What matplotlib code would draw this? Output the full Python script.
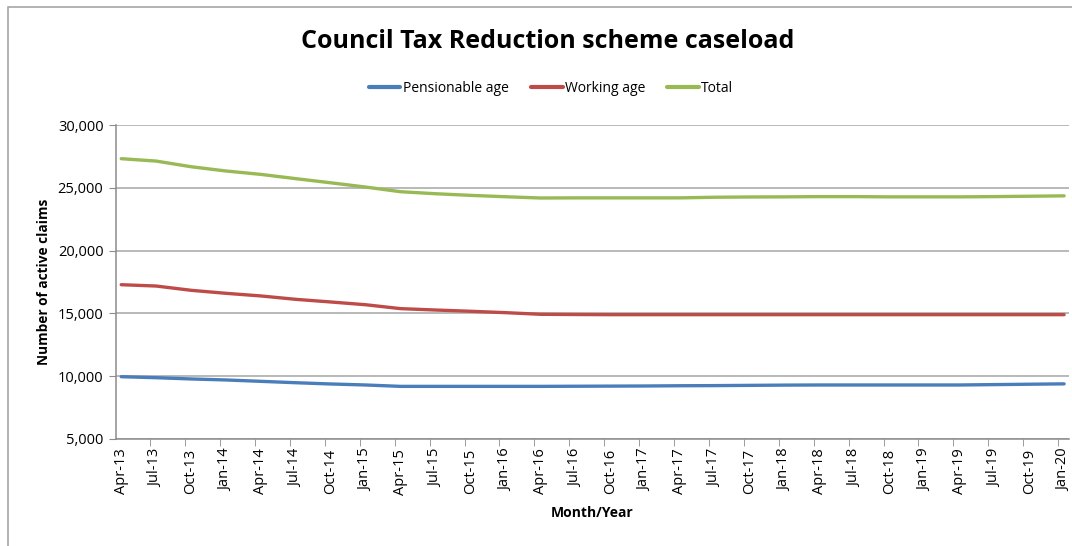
import numpy as np
import matplotlib
matplotlib.use("Agg")
import matplotlib.pyplot as plt
import matplotlib.patches as mpatches
from matplotlib.ticker import FuncFormatter, FixedLocator

months = ['Apr-13', 'Jul-13', 'Oct-13', 'Jan-14', 'Apr-14', 'Jul-14', 'Oct-14',
          'Jan-15', 'Apr-15', 'Jul-15', 'Oct-15', 'Jan-16', 'Apr-16', 'Jul-16',
          'Oct-16', 'Jan-17', 'Apr-17', 'Jul-17', 'Oct-17', 'Jan-18', 'Apr-18',
          'Jul-18', 'Oct-18', 'Jan-19', 'Apr-19', 'Jul-19', 'Oct-19', 'Jan-20']

pensionable = [9960, 9880, 9780, 9700, 9590, 9480, 9380, 9300, 9190, 9190,
               9190, 9190, 9190, 9200, 9210, 9220, 9240, 9250, 9270, 9290,
               9300, 9300, 9300, 9300, 9300, 9330, 9360, 9390]
working = [17285, 17180, 16840, 16600, 16390, 16120, 15910, 15690, 15380,
           15270, 15170, 15060, 14930, 14910, 14900, 14900, 14900, 14900,
           14900, 14900, 14900, 14900, 14900, 14900, 14900, 14900, 14900, 14900]
total = [27320, 27130, 26680, 26340, 26070, 25730, 25400, 25060, 24690,
         24530, 24400, 24290, 24190, 24200, 24200, 24200, 24200, 24250,
         24270, 24280, 24300, 24300, 24280, 24280, 24280, 24300, 24330, 24360]

labels = ['Pensionable age', 'Working age', 'Total']
colorz = ['#4a7ebb', '#be4b48', '#98b954']

plt.rcParams['font.family'] = ['Open Sans', 'DejaVu Sans']

fig = plt.figure(figsize=(10.72, 5.46), dpi=100)
ax = fig.add_axes([0.1082, 0.196, 0.889, 0.575])

# outer chart border
fig.patches.append(mpatches.Rectangle((8 / 1072, -0.1), 1.2, 1.1 - 7 / 546,
                                      transform=fig.transFigure, fill=False,
                                      edgecolor='#a6a6a6', linewidth=1.2))

x = np.arange(len(months))
for series, col, lab in zip([pensionable, working, total], colorz, labels):
    ax.plot(x, series, color=col, linewidth=2.4, label=lab,
            solid_capstyle='round')

ax.set_ylim(5000, 30000)
ax.set_xlim(-0.15, 27.14)
ax.set_yticks(np.arange(5000, 30001, 5000))
ax.yaxis.set_major_formatter(FuncFormatter(lambda v, p: f'{int(v):,}'))
ax.grid(axis='y', color='#a6a6a6', linewidth=1.1)
ax.set_axisbelow(True)

ax.set_xticks(x)
ax.set_xticklabels(months, rotation=90, fontsize=10.5)
ax.tick_params(axis='x', which='major', length=0, pad=7)
ax.xaxis.set_minor_locator(FixedLocator(x - 0.17))
ax.tick_params(axis='x', which='minor', length=5, color='#8c8c8c')
ax.tick_params(axis='y', length=5, color='#8c8c8c', labelsize=10.5, pad=4)

for s in ['top', 'right']:
    ax.spines[s].set_visible(False)
for s in ['left', 'bottom']:
    ax.spines[s].set_color('#8c8c8c')
    ax.spines[s].set_linewidth(1.1)

ax.set_ylabel('Number of active claims', fontsize=9.8, fontweight='bold',
              labelpad=5)
ax.set_xlabel('Month/Year', fontsize=10, fontweight='bold', labelpad=8)

fig.text(548 / 1072, 1 - 42 / 546, 'Council Tax Reduction scheme caseload',
         ha='center', va='center', fontsize=18, fontweight='bold')

leg = fig.legend(loc='center', bbox_to_anchor=(551 / 1072, 1 - 88 / 546),
                 ncol=3, frameon=False, fontsize=10, handlelength=2.3,
                 handletextpad=0.15, columnspacing=1.6)
for h in leg.get_lines():
    h.set_linewidth(3)

fig.savefig('out.png', dpi=100)
